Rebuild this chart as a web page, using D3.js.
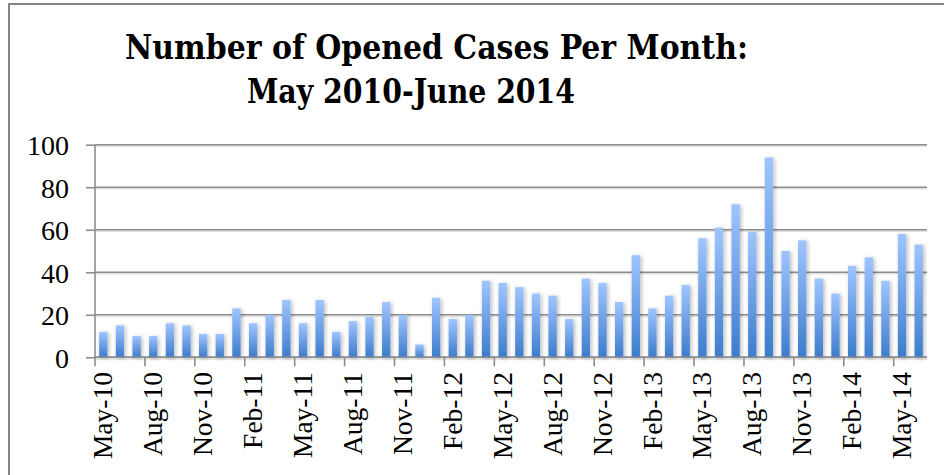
<!DOCTYPE html>
<html>
<head>
<meta charset="utf-8">
<script src="https://cdn.jsdelivr.net/npm/d3@7/dist/d3.min.js"></script>
<style>
html,body{margin:0;padding:0;background:#fff;overflow:hidden;}
svg{display:block;}
</style>
</head>
<body>
<svg id="chart" width="944" height="475"></svg>
<script>
const months = ["May-10","Jun-10","Jul-10","Aug-10","Sep-10","Oct-10","Nov-10","Dec-10",
"Jan-11","Feb-11","Mar-11","Apr-11","May-11","Jun-11","Jul-11","Aug-11","Sep-11","Oct-11","Nov-11","Dec-11",
"Jan-12","Feb-12","Mar-12","Apr-12","May-12","Jun-12","Jul-12","Aug-12","Sep-12","Oct-12","Nov-12","Dec-12",
"Jan-13","Feb-13","Mar-13","Apr-13","May-13","Jun-13","Jul-13","Aug-13","Sep-13","Oct-13","Nov-13","Dec-13",
"Jan-14","Feb-14","Mar-14","Apr-14","May-14","Jun-14"];
const openedCases = [12,15,10,10,16,15,11,11,23,16,20,27,16,27,12,17,19,26,20,6,
28,18,20,36,35,33,30,29,18,37,35,26,48,23,29,34,56,61,72,59,94,50,55,37,30,43,47,36,58,53];
const yTicks = [0,20,40,60,80,100];
const xTickLabels = ["May-10","Aug-10","Nov-10","Feb-11","May-11","Aug-11","Nov-11","Feb-12","May-12",
"Aug-12","Nov-12","Feb-13","May-13","Aug-13","Nov-13","Feb-14","May-14"];
const titleLines = ["Number of Opened Cases Per Month:","May 2010-June 2014"];

const svg = d3.select("#chart");
const L = 95, R = 927, T = 144.7, B = 357.3;

const defs = svg.append("defs");
const grad = defs.append("linearGradient").attr("id","barGrad")
  .attr("x1",0).attr("y1",0).attr("x2",0).attr("y2",1);
grad.append("stop").attr("offset","0%").attr("stop-color","#9fc5ff");
grad.append("stop").attr("offset","100%").attr("stop-color","#3d7ccc");
const f = defs.append("filter").attr("id","shadow").attr("x","-50%").attr("y","-20%").attr("width","200%").attr("height","140%");
f.append("feDropShadow").attr("dx",1.5).attr("dy",1).attr("stdDeviation",2)
  .attr("flood-color","#000").attr("flood-opacity",0.28);

// frame
svg.append("rect").attr("x",9).attr("y",4).attr("width",1000).attr("height",600)
  .attr("fill","none").attr("stroke","#858585").attr("stroke-width",2);

// title
const tf = "'DejaVu Serif Condensed', 'DejaVu Serif', serif";
svg.append("text").attr("x",436.5).attr("y",59).attr("text-anchor","middle")
  .attr("font-family",tf).attr("font-weight","bold").attr("font-size",33.5)
  .attr("textLength",623).attr("lengthAdjust","spacingAndGlyphs")
  .text(titleLines[0]);
svg.append("text").attr("x",411).attr("y",103).attr("text-anchor","middle")
  .attr("font-family",tf).attr("font-weight","bold").attr("font-size",33.5)
  .attr("textLength",328).attr("lengthAdjust","spacingAndGlyphs")
  .text(titleLines[1]);

const x = d3.scaleBand().domain(months).range([L,R]).paddingInner(0.5).paddingOuter(0.25);
const y = d3.scaleLinear().domain([0,100]).range([B,T]);

// gridlines
const grid = svg.append("g");
yTicks.forEach(t=>{
  grid.append("line").attr("x1",L).attr("x2",R).attr("y1",y(t)+1.6).attr("y2",y(t)+1.6)
    .attr("stroke","#e2e2e2").attr("stroke-width",1.5);
  grid.append("line").attr("x1",L).attr("x2",R).attr("y1",y(t)).attr("y2",y(t))
    .attr("stroke","#8c8c8c").attr("stroke-width",1.6);
});

// bars
svg.append("g").selectAll("rect").data(openedCases).join("rect")
  .attr("x",(d,i)=>x(months[i]))
  .attr("y",d=>y(d))
  .attr("width",x.bandwidth())
  .attr("height",d=>B-y(d))
  .attr("fill","url(#barGrad)")
  .attr("filter","url(#shadow)");

// y axis
const yAxis = d3.axisLeft(y).tickValues(yTicks).tickSize(9).tickPadding(17);
const gy = svg.append("g").attr("transform",`translate(${L},0)`).call(yAxis);
gy.select(".domain").attr("stroke","#8c8c8c").attr("stroke-width",1.6).attr("d",`M0,${T}V${B+9}`);
gy.selectAll(".tick line").attr("stroke","#8c8c8c").attr("stroke-width",1.6);
gy.selectAll(".tick text").attr("font-family","'Liberation Serif', serif")
  .attr("font-size",28).attr("fill","#000").attr("dy","0.35em");

// x axis line
svg.append("line").attr("x1",L).attr("x2",R).attr("y1",B).attr("y2",B)
  .attr("stroke","#8c8c8c").attr("stroke-width",1.6);
// boundary ticks every 3 categories
const step = x.step();
const tickIdx = d3.range(3, months.length, 3);
svg.append("g").selectAll("line").data(tickIdx).join("line")
  .attr("x1",i=>x(months[i]) - step*x.paddingInner()/2)
  .attr("x2",i=>x(months[i]) - step*x.paddingInner()/2)
  .attr("y1",B).attr("y2",B+9)
  .attr("stroke","#8c8c8c").attr("stroke-width",1.6);

// x labels
svg.append("g").selectAll("text").data(xTickLabels).join("text")
  .attr("transform",d=>`translate(${x(d)+x.bandwidth()/2},372) rotate(-90)`)
  .attr("text-anchor","end").attr("dy","0.33em")
  .attr("font-family","'Liberation Serif', 'Times New Roman', serif")
  .attr("font-size",27.5).attr("fill","#000")
  .text(d=>d);
</script>
</body>
</html>
